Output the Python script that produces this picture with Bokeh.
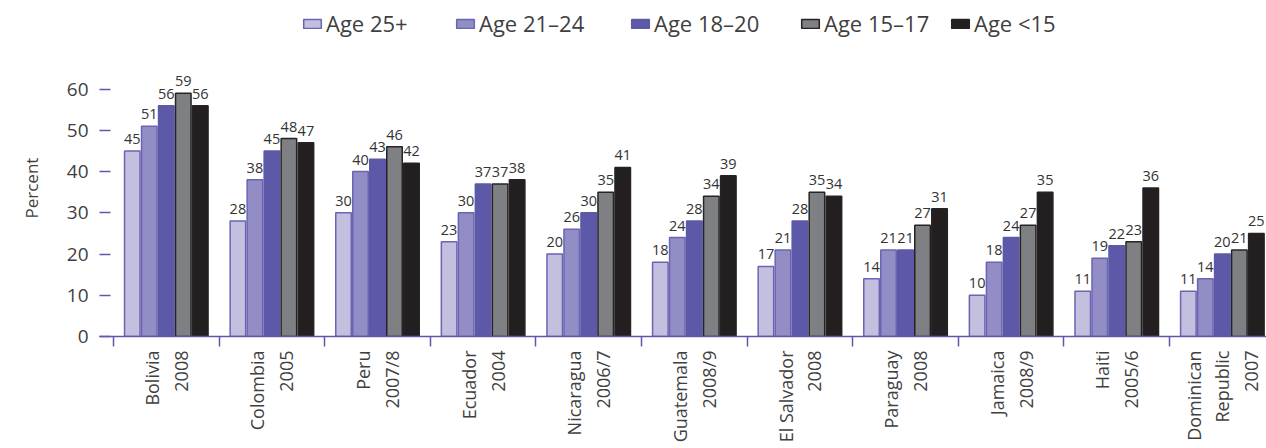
import math
from bokeh.plotting import figure
from bokeh.models import (Range1d, FixedTicker, LabelSet, ColumnDataSource,
                          Legend, LegendItem, Title)
from bokeh.core.properties import value
from bokeh.embed import file_html
from bokeh.resources import INLINE

# ---------------- data ----------------
countries = ["Bolivia\n2008", "Colombia\n2005", "Peru\n2007/8", "Ecuador\n2004",
             "Nicaragua\n2006/7", "Guatemala\n2008/9", "El Salvador\n2008",
             "Paraguay\n2008", "Jamaica\n2008/9", "Haiti\n2005/6",
             "Dominican\nRepublic\n2007"]
series_names = ["Age 25+", "Age 21\u201324", "Age 18\u201320", "Age 15\u201317", "Age <15"]
age_25_plus = [45, 28, 30, 23, 20, 18, 17, 14, 10, 11, 11]
age_21_24 = [51, 38, 40, 30, 26, 24, 21, 21, 18, 19, 14]
age_18_20 = [56, 45, 43, 37, 30, 28, 28, 21, 24, 22, 20]
age_15_17 = [59, 48, 46, 37, 35, 34, 35, 27, 27, 23, 21]
age_under_15 = [56, 47, 42, 38, 41, 39, 34, 31, 35, 36, 25]
y_ticks = [0, 10, 20, 30, 40, 50, 60]

# ---------------- style ----------------
FONT = "Open Sans"
TXT = "#3f3f3f"
PURPLE = "#5d59a8"
fills = ["#c3bfdf", "#928dc5", "#5d59a8", "#7f8084", "#231f20"]
lines = ["#6a64b2", "#6a64b2", "#5d59a8", "#262324", "#262324"]
all_vals = [age_25_plus, age_21_24, age_18_20, age_15_17, age_under_15]

n = len(countries)
step = 0.161
bar_w = 0.147

p = figure(width=1266, height=448, output_backend="svg", toolbar_location=None,
           x_range=Range1d(-0.1325, 10.918), y_range=Range1d(0, 81.5),
           min_border_left=98, min_border_right=0, min_border_top=0,
           min_border_bottom=112)
p.outline_line_color = None
p.xgrid.grid_line_color = None
p.ygrid.grid_line_color = None

# x axis: labels at category centres, tick marks at boundaries
centers = [i + 0.5 for i in range(n)]
p.xaxis.ticker = FixedTicker(ticks=centers, minor_ticks=list(range(n + 1)))
p.xaxis.major_label_overrides = {c: t for c, t in zip(centers, countries)}
p.xaxis.major_label_orientation = math.pi / 2
p.xaxis.major_label_standoff = 4
p.xaxis.major_label_text_font_size = "18px"
p.xaxis.major_label_text_font = FONT
p.xaxis.major_label_text_color = TXT
p.xaxis.axis_line_color = PURPLE
p.xaxis.axis_line_width = 1.5
p.xaxis.minor_tick_line_color = PURPLE
p.xaxis.minor_tick_line_width = 1.5
p.xaxis.minor_tick_out = 10
p.xaxis.minor_tick_in = 0
p.xaxis.major_tick_line_color = None
p.xaxis.major_tick_out = 0
p.xaxis.major_tick_in = 0

# y axis
p.yaxis.ticker = FixedTicker(ticks=y_ticks, minor_ticks=[])
p.yaxis.axis_line_color = None
p.yaxis.major_tick_in = 11
p.yaxis.major_tick_out = 0
p.yaxis.major_tick_line_color = PURPLE
p.yaxis.major_tick_line_width = 1.5
p.yaxis.minor_tick_line_color = None
p.yaxis.major_label_standoff = 11
p.yaxis.major_label_text_font_size = "19px"
p.yaxis.major_label_text_font = FONT
p.yaxis.major_label_text_color = TXT

legend_x = [202, 355, 530, 700, 850]
legend_y = 298

for j, (name, vals) in enumerate(zip(series_names, all_vals)):
    off = (j - 2) * step
    src = ColumnDataSource(dict(
        x=[i + 0.5 + off for i in range(n)],
        v=vals,
        lbl=[str(v) for v in vals],
    ))
    r = p.vbar(x="x", top="v", width=bar_w, source=src,
               fill_color=fills[j], line_color=lines[j], line_width=1.5)
    p.add_layout(LabelSet(x="x", y="v", text="lbl", source=src,
                          text_align="center", text_baseline="bottom", y_offset=7,
                          text_font_size="14.5px", text_color="#333333",
                          text_font=value(FONT)))
    leg = Legend(items=[LegendItem(label=name, renderers=[r])],
                 location=(legend_x[j], legend_y), orientation="horizontal",
                 glyph_width=22, glyph_height=11, label_standoff=3,
                 padding=0, margin=0, spacing=0,
                 border_line_color=None, background_fill_alpha=0,
                 label_text_font_size="22px", label_text_color=TXT,
                 label_text_font=FONT)
    p.add_layout(leg)

# axis title
p.add_layout(Title(text="Percent", align="left", vertical_align="top",
                   offset=118, standoff=38,
                   text_font_size="17px", text_font=FONT, text_color=TXT,
                   text_font_style="normal"), "left")

open("out.html", "w").write(file_html(p, INLINE))
